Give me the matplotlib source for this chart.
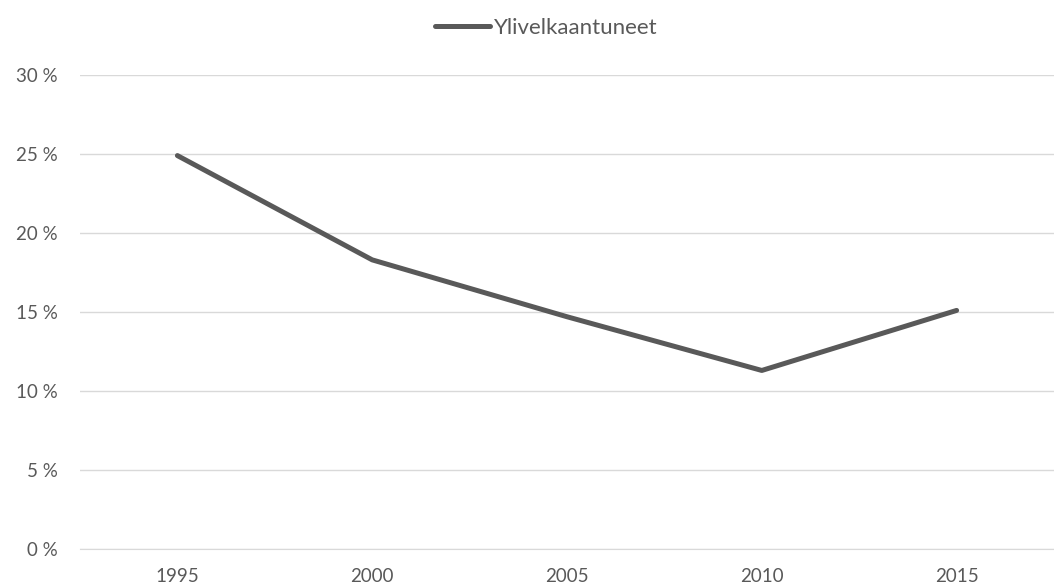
import matplotlib.pyplot as plt
from matplotlib.ticker import FuncFormatter

years = ["1995", "2000", "2005", "2010", "2015"]
ylivelkaantuneet = [0.249, 0.183, 0.147, 0.113, 0.151]
y_ticks = [0.0, 0.05, 0.10, 0.15, 0.20, 0.25, 0.30]

text_color = "#595959"
plt.rcParams["font.family"] = ["Lato", "DejaVu Sans"]

fig = plt.figure(figsize=(10.54, 5.88), dpi=100)
ax = fig.add_axes([80 / 1054, 1 - 549 / 588, 1 - 80 / 1054, (549 - 75) / 588])

x = range(len(years))
ax.plot(x, ylivelkaantuneet, color="#595959", linewidth=3.6,
        solid_capstyle="round", solid_joinstyle="round",
        label="Ylivelkaantuneet", zorder=3)

ax.set_xlim(-0.5, len(years) - 0.5)
ax.set_ylim(0, 0.30)
ax.set_xticks(list(x))
ax.set_xticklabels(years)
ax.set_yticks(y_ticks)
ax.yaxis.set_major_formatter(FuncFormatter(lambda v, _: f"{v * 100:.0f} %"))

ax.grid(axis="y", color="#d9d9d9", linewidth=1.0)
ax.set_axisbelow(True)
for side in ["top", "right", "left"]:
    ax.spines[side].set_visible(False)
ax.spines["bottom"].set_color("#d9d9d9")
ax.tick_params(axis="both", length=0, labelsize=13.5, colors=text_color)
ax.tick_params(axis="x", pad=14)
ax.tick_params(axis="y", pad=16)

leg = fig.legend(loc="center", bbox_to_anchor=(546 / 1054, 1 - 28 / 588),
                 frameon=False, fontsize=16, handlelength=2.5,
                 handletextpad=0.15)
for t in leg.get_texts():
    t.set_color(text_color)

fig.savefig("out.png", dpi=100)
